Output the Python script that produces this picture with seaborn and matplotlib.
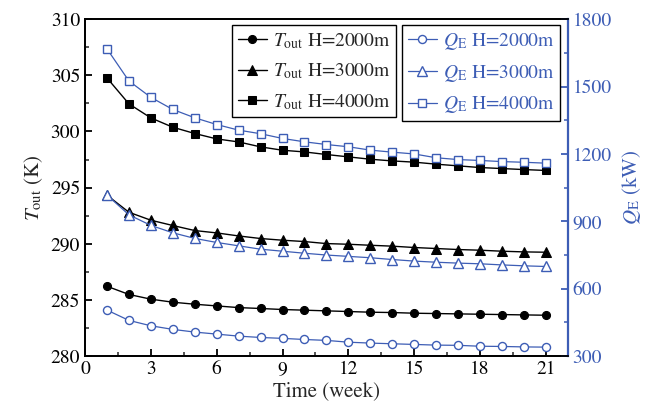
import numpy as np
import pandas as pd
import seaborn as sns
import matplotlib
matplotlib.use("Agg")
import matplotlib.pyplot as plt
from matplotlib.ticker import MultipleLocator

weeks = list(range(1, 22))

t_out_2000 = [286.22, 285.49, 285.07, 284.80, 284.62, 284.47, 284.32, 284.24, 284.15, 284.09,
              284.03, 283.97, 283.91, 283.88, 283.82, 283.79, 283.76, 283.73, 283.70, 283.67, 283.64]
t_out_3000 = [294.33, 292.81, 292.10, 291.63, 291.18, 290.97, 290.70, 290.47, 290.32, 290.20,
              290.02, 289.96, 289.87, 289.79, 289.67, 289.58, 289.49, 289.43, 289.34, 289.28, 289.25]
t_out_4000 = [304.77, 302.46, 301.21, 300.38, 299.82, 299.34, 299.07, 298.63, 298.33, 298.18,
              297.95, 297.74, 297.53, 297.38, 297.27, 297.09, 296.94, 296.79, 296.70, 296.61, 296.53]

q_e_2000 = [505, 459, 435, 419, 407, 398, 389, 383, 379, 374,
            370, 362, 358, 355, 352, 349, 348, 344, 343, 341, 340]
q_e_3000 = [1017, 929, 882, 849, 824, 806, 791, 776, 767, 758,
            750, 744, 738, 730, 723, 718, 714, 711, 706, 702, 699]
q_e_4000 = [1668, 1525, 1452, 1398, 1361, 1331, 1306, 1290, 1269, 1254,
            1242, 1232, 1217, 1208, 1200, 1183, 1175, 1171, 1166, 1163, 1159]

depth_labels = ["H=2000m", "H=3000m", "H=4000m"]

sns.set_theme(style="ticks")
plt.rcParams["font.family"] = ["STIXGeneral", "DejaVu Serif"]
plt.rcParams["mathtext.fontset"] = "stix"
plt.rcParams["axes.linewidth"] = 1.3

BLUE = "#3d5db5"

fig = plt.figure(figsize=(6.49, 4.17), dpi=100)
ax = fig.add_axes([0.131, 0.146, 0.744, 0.808])
ax2 = ax.twinx()

markers = ["o", "^", "s"]
sizes = [5.8, 7.0, 5.6]
t_series = [t_out_2000, t_out_3000, t_out_4000]
q_series = [q_e_2000, q_e_3000, q_e_4000]

t_handles = []
for vals, m, ms in zip(t_series, markers, sizes):
    df = pd.DataFrame({"week": weeks, "val": vals})
    sns.lineplot(data=df, x="week", y="val", ax=ax, color="black", marker=m,
                 markersize=ms, markeredgecolor="black",
                 markerfacecolor="black", linewidth=1.0, legend=False)
    t_handles.append(ax.lines[-1])

q_handles = []
for vals, m, ms in zip(q_series, markers, sizes):
    df = pd.DataFrame({"week": weeks, "val": vals})
    sns.lineplot(data=df, x="week", y="val", ax=ax2, color=BLUE, marker=m,
                 markersize=ms, markeredgecolor=BLUE,
                 markerfacecolor="white", markeredgewidth=1.0, linewidth=0.9, legend=False)
    q_handles.append(ax2.lines[-1])

ax.set_xlim(0, 22)
ax.set_ylim(280, 310)
ax2.set_ylim(300, 1800)

ax.xaxis.set_major_locator(MultipleLocator(3))
ax.xaxis.set_minor_locator(MultipleLocator(1.5))
ax.yaxis.set_major_locator(MultipleLocator(5))
ax.yaxis.set_minor_locator(MultipleLocator(2.5))
ax2.yaxis.set_major_locator(MultipleLocator(300))
ax2.yaxis.set_minor_locator(MultipleLocator(150))

ax.tick_params(axis="both", which="major", direction="in", length=5, width=1.3,
               labelsize=14, colors="black", top=False, right=False)
ax.tick_params(axis="both", which="minor", direction="in", length=3, width=1.1,
               top=False, right=False)
ax2.tick_params(axis="y", which="major", direction="in", length=5, width=1.3,
                labelsize=14, colors=BLUE)
ax2.tick_params(axis="y", which="minor", direction="in", length=3, width=1.1, colors=BLUE)

for s in ["left", "bottom", "top"]:
    ax.spines[s].set_color("black")
    ax2.spines[s].set_color("black")
ax2.spines["right"].set_color(BLUE)
ax2.spines["right"].set_linewidth(1.6)
ax.spines["right"].set_visible(False)

ax.set_xlabel("Time (week)", fontsize=15, labelpad=2)
ax.set_ylabel(r"$T_{\mathrm{out}}$ (K)", fontsize=15, labelpad=4)
ax2.set_ylabel(r"$Q_{\mathrm{E}}$ (kW)", fontsize=15, color=BLUE, labelpad=6)

leg_kw = dict(loc="upper left", frameon=True, fancybox=False, framealpha=1,
              edgecolor="black", fontsize=14, handlelength=1.5, handletextpad=0.3,
              borderpad=0.3, labelspacing=0.55, borderaxespad=0)

t_labels = [r"$T_{\mathrm{out}}$ " + d for d in depth_labels]
q_labels = [r"$Q_{\mathrm{E}}$ " + d for d in depth_labels]

leg1 = ax2.legend(t_handles, t_labels, bbox_to_anchor=(0.304, 0.982), **leg_kw)
leg1.get_frame().set_linewidth(1.0)
ax2.add_artist(leg1)
leg2 = ax2.legend(q_handles, q_labels, bbox_to_anchor=(0.656, 0.982),
                  labelcolor=BLUE, **leg_kw)
leg2.get_frame().set_linewidth(1.0)

fig.savefig("out.png", dpi=100)
